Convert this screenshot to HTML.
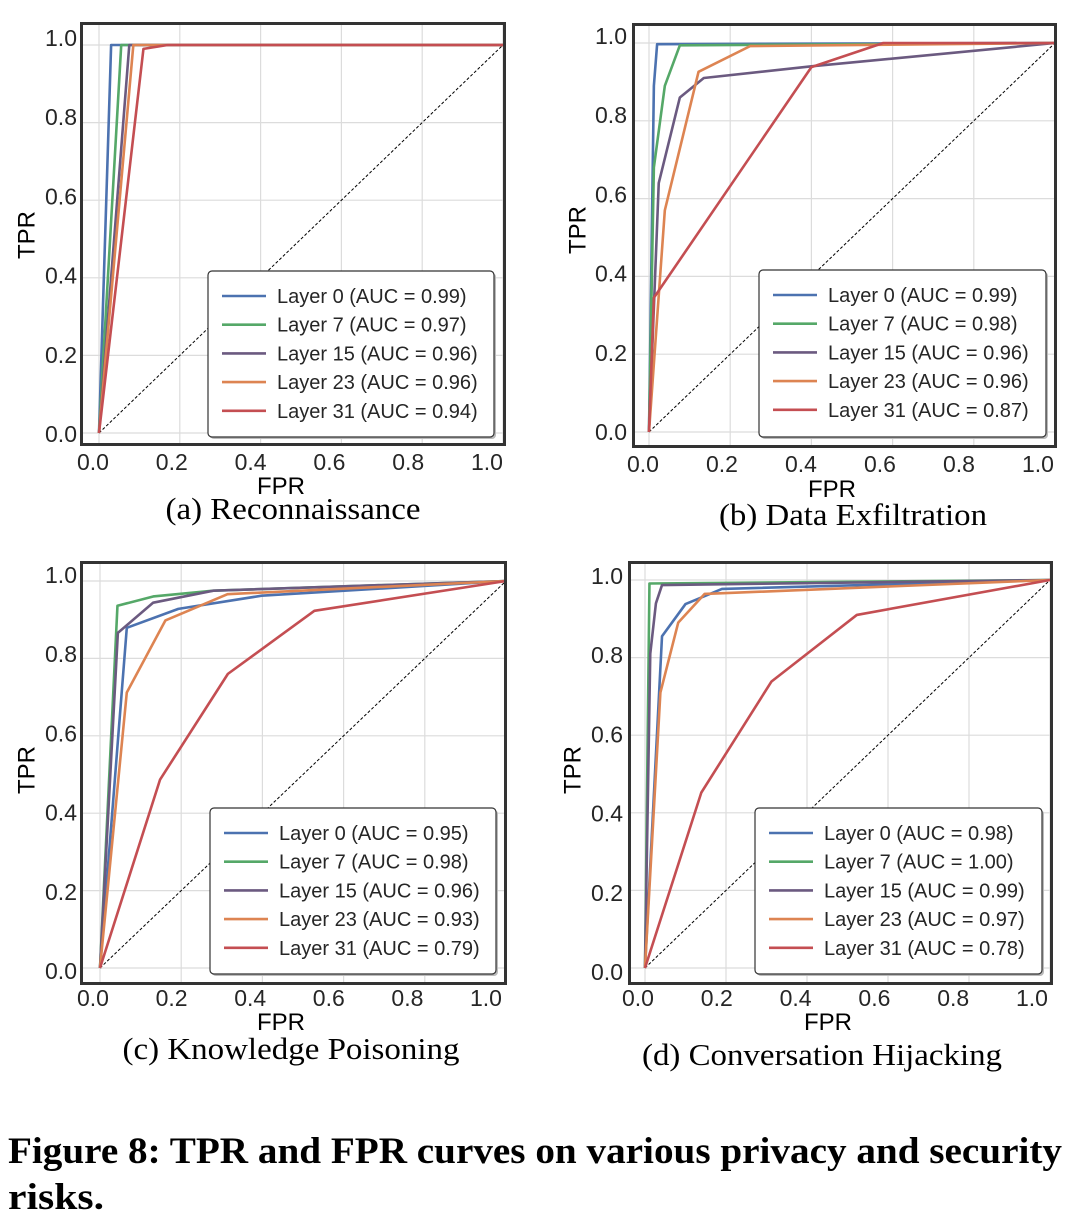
<!DOCTYPE html>
<html><head><meta charset="utf-8"><style>
html,body{margin:0;padding:0;background:#fff;}
svg{display:block;}
</style></head><body>
<svg id="fig" width="1070" height="1220" viewBox="0 0 1070 1220" xmlns="http://www.w3.org/2000/svg">
<text x="8" y="1163" textLength="1054" lengthAdjust="spacingAndGlyphs" font-family="Liberation Serif, serif" font-weight="bold" font-size="37" fill="#000">Figure 8: TPR and FPR curves on various privacy and security</text>
<text x="8" y="1209" textLength="96" lengthAdjust="spacingAndGlyphs" font-family="Liberation Serif, serif" font-weight="bold" font-size="37" fill="#000">risks.</text>
</svg>
<script>
// ---- data ----
const layerNames = ["Layer 0","Layer 7","Layer 15","Layer 23","Layer 31"];
const tickLabels = ["0.0","0.2","0.4","0.6","0.8","1.0"];
const tickValues = [0,0.2,0.4,0.6,0.8,1.0];
const aucA = ["0.99","0.97","0.96","0.96","0.94"];
const aucB = ["0.99","0.98","0.96","0.96","0.87"];
const aucC = ["0.95","0.98","0.96","0.93","0.79"];
const aucD = ["0.98","1.00","0.99","0.97","0.78"];
const rocA = [
  [[0,0],[0.03,1],[1,1]],
  [[0,0],[0.055,1],[1,1]],
  [[0,0],[0.075,1],[1,1]],
  [[0,0],[0.085,1],[1,1]],
  [[0,0],[0.11,0.99],[0.17,1],[1,1]]
];
const rocB = [
  [[0,0],[0.012,0.89],[0.02,0.997],[1,1]],
  [[0,0],[0.012,0.68],[0.039,0.89],[0.076,0.994],[1,1]],
  [[0,0],[0.024,0.64],[0.076,0.86],[0.135,0.91],[0.40,0.94],[1,1]],
  [[0,0],[0.039,0.57],[0.122,0.926],[0.249,0.992],[1,1]],
  [[0,0],[0.012,0.345],[0.40,0.938],[0.577,1.0],[1,1]]
];
const rocC = [
  [[0,0],[0.066,0.879],[0.193,0.928],[0.398,0.962],[1,1]],
  [[0,0],[0.043,0.936],[0.131,0.96],[0.279,0.975],[1,1]],
  [[0,0],[0.044,0.866],[0.131,0.944],[0.279,0.975],[1,1]],
  [[0,0],[0.066,0.712],[0.161,0.898],[0.314,0.966],[1,1]],
  [[0,0],[0.148,0.487],[0.315,0.76],[0.528,0.923],[1,1]]
];
const rocD = [
  [[0,0],[0.042,0.855],[0.10,0.938],[0.19,0.977],[1,1]],
  [[0,0],[0.011,0.991],[1,1]],
  [[0,0],[0.013,0.81],[0.027,0.94],[0.042,0.987],[1,1]],
  [[0,0],[0.038,0.71],[0.082,0.89],[0.147,0.964],[1,1]],
  [[0,0],[0.139,0.452],[0.312,0.738],[0.523,0.91],[1,1]]
];
const colors = ["#4c72b0","#55a868","#6b5a80","#dd8452","#c44e52"];

// ---- layout (pixels) ----
const panels = [
 {id:"a",cap:"(a) Reconnaissance",capw:255,roc:rocA,auc:aucA,box:[80,22,506,446],x0:99,x1:503,y0:433,y1:45,
  lx:[93,487],lxy:469,ly:[434,38],lyx:77,tpr:[27,235],fpr:[281,494],capxy:[293,519],leg:[208,271,494,437]},
 {id:"b",cap:"(b) Data Exfiltration",capw:268,roc:rocB,auc:aucB,box:[632,23,1057,448],x0:649,x1:1055,y0:432,y1:43,
  lx:[643,1038],lxy:471,ly:[432,36],lyx:627,tpr:[578,230],fpr:[832,497],capxy:[853,525],leg:[759,270,1046,437]},
 {id:"c",cap:"(c) Knowledge Poisoning",capw:337,roc:rocC,auc:aucC,box:[80,561,507,985],x0:100,x1:506,y0:968,y1:581,
  lx:[93,486],lxy:1005,ly:[971,575],lyx:77,tpr:[27,770],fpr:[281,1030],capxy:[291,1059],leg:[210,808,496,974]},
 {id:"d",cap:"(d) Conversation Hijacking",capw:360,roc:rocD,auc:aucD,box:[628,561,1053,985],x0:645,x1:1050,y0:968,y1:580,
  lx:[638,1032],lxy:1005,ly:[972,576],lyx:623,tpr:[573,770],fpr:[828,1030],capxy:[822,1065],leg:[755,808,1042,974]}
];
const NS="http://www.w3.org/2000/svg";
const fig=document.getElementById("fig");
function mk(tag,attrs,parent){const e=document.createElementNS(NS,tag);for(const k in attrs)e.setAttribute(k,attrs[k]);(parent||fig).appendChild(e);return e;}
panels.forEach(p=>{
  const g=mk("g",{});
  
  
  const sx=v=>p.x0+v*(p.x1-p.x0), sy=v=>p.y0+v*(p.y1-p.y0);
  const [bx0,by0,bx1,by1]=p.box;
  mk("rect",{x:bx0,y:by0,width:bx1-bx0,height:by1-by0,fill:"#fff"},g);
  tickValues.forEach((t,i)=>{
    const gx=mk("line",{x1:sx(t),x2:sx(t),y1:by0,y2:by1,stroke:"#dcdcdc","stroke-width":1.2},g);
    
    
    const gy=mk("line",{x1:bx0,x2:bx1,y1:sy(t),y2:sy(t),stroke:"#dcdcdc","stroke-width":1.2},g);
    
    
    const tx=mk("text",{x:p.lx[0]+i*(p.lx[1]-p.lx[0])/5,y:p.lxy+1,"text-anchor":"middle","font-family":"Liberation Sans, sans-serif","font-size":23,fill:"#262626"},g);
    tx.textContent=tickLabels[i];
    
    
    const ty=mk("text",{x:p.lyx,y:p.ly[0]+i*(p.ly[1]-p.ly[0])/5+8,"text-anchor":"end","font-family":"Liberation Sans, sans-serif","font-size":23,fill:"#262626"},g);
    ty.textContent=tickLabels[i];
    
    
  });
  const diag=mk("line",{x1:sx(0),y1:sy(0),x2:sx(1),y2:sy(1),stroke:"#000","stroke-width":1,"stroke-dasharray":"3,2"},g);
  
  
  p.roc.forEach((pts,k)=>{
    const pl=mk("polyline",{points:pts.map(q=>sx(q[0])+","+sy(q[1])).join(" "),fill:"none",stroke:colors[k],"stroke-width":2.6,"stroke-linejoin":"round"},g);
    
    
  });
  const frame=mk("rect",{x:bx0+1.5,y:by0+1.5,width:bx1-bx0-3,height:by1-by0-3,fill:"none",stroke:"#333","stroke-width":3},g);
  
  
  // legend
  const [lx0,ly0,lx1,ly1]=p.leg;
  mk("rect",{x:lx0+2,y:ly0+2,width:lx1-lx0,height:ly1-ly0,rx:4,fill:"#bbb"},g);
  const lg=mk("rect",{x:lx0,y:ly0,width:lx1-lx0,height:ly1-ly0,rx:4,fill:"#fff",stroke:"#333","stroke-width":1.2},g);
  
  
  layerNames.forEach((n,k)=>{
    const yy=ly0+25+k*28.7;
    const ll=mk("line",{x1:lx0+14,x2:lx0+58,y1:yy,y2:yy,stroke:colors[k],"stroke-width":2.6},g);
    
    
    const lt=mk("text",{x:lx0+69,y:yy+7,"font-family":"Liberation Sans, sans-serif","font-size":20,fill:"#262626"},g);
    lt.textContent=n+" (AUC = "+p.auc[k]+")";
    
    
  });
  const tp=mk("text",{x:p.tpr[0],y:p.tpr[1],transform:"rotate(-90 "+p.tpr[0]+" "+p.tpr[1]+")","text-anchor":"middle","dominant-baseline":"central","font-family":"Liberation Sans, sans-serif","font-size":24,fill:"#000"},g);
  tp.textContent="TPR";
  
  
  const fp=mk("text",{x:p.fpr[0],y:p.fpr[1],"text-anchor":"middle","font-family":"Liberation Sans, sans-serif","font-size":24,fill:"#000"},g);
  fp.textContent="FPR";
  
  
  const cp=mk("text",{x:p.capxy[0],y:p.capxy[1],"text-anchor":"middle",textLength:p.capw,lengthAdjust:"spacingAndGlyphs","font-family":"Liberation Serif, serif","font-size":31,fill:"#000"},g);
  cp.textContent=p.cap;
  
  
});
</script>
</body></html>
